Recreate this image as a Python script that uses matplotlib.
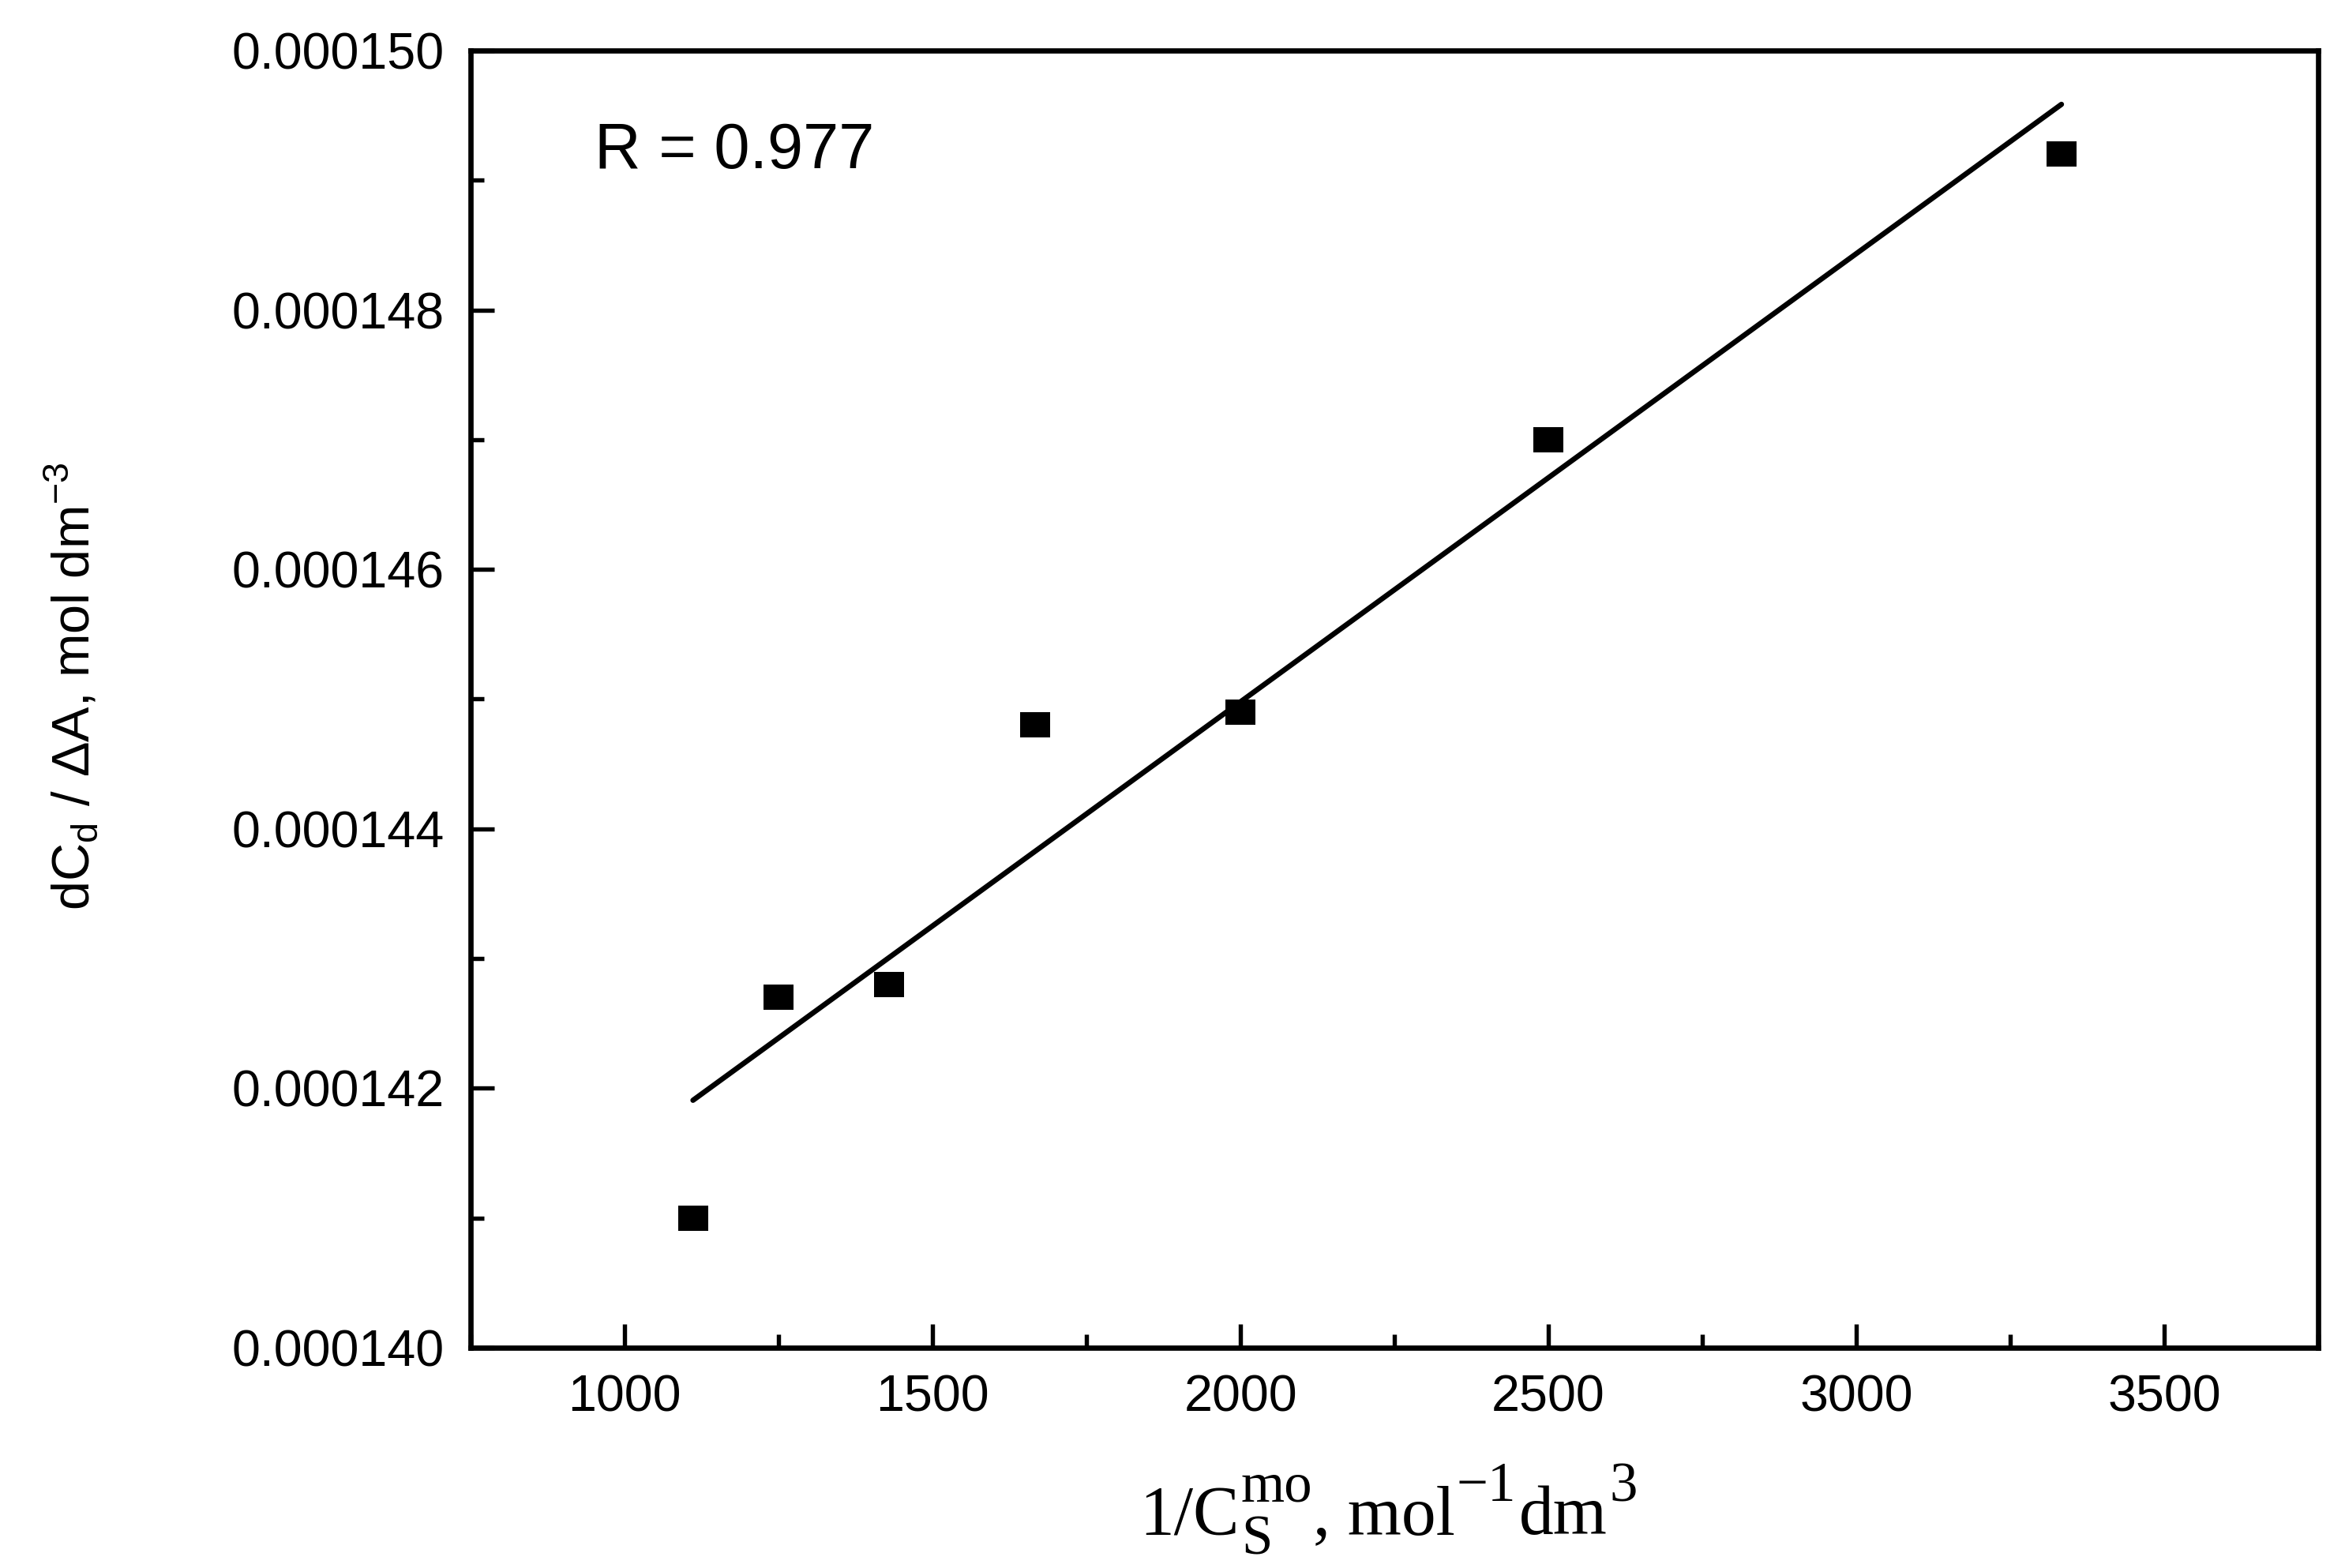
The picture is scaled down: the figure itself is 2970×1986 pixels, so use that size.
import matplotlib
matplotlib.use('Agg')
import matplotlib.pyplot as plt
import numpy as np
from matplotlib.ticker import MultipleLocator, FormatStrFormatter

# data
inv_conc = [1111, 1250, 1429, 1667, 2000, 2500, 3333]
ratio = [0.0001410, 0.0001427, 0.0001428, 0.0001448, 0.0001449, 0.0001470, 0.0001492]
r_text = 'R = 0.977'

plt.rcParams['font.family'] = ['Liberation Sans', 'DejaVu Sans']

fig = plt.figure(figsize=(9.9, 6.62), dpi=300)
ax = fig.add_axes([0.2007, 0.1405, 0.7879, 0.8273])

# linear fit line between first and last x
x = np.array(inv_conc)
y = np.array(ratio)
slope, icpt = np.polyfit(x, y, 1)
xf = np.array([x.min(), x.max()])
ax.plot(xf, slope * xf + icpt, color='k', lw=1.6, solid_capstyle='round')

# slightly wide square markers
rect = [(-1, -0.84), (1, -0.84), (1, 0.84), (-1, 0.84), (-1, -0.84)]
ax.plot(x, y, ls='none', marker=rect, markersize=9.3, color='k', markeredgewidth=0)

ax.set_xlim(750, 3750)
ax.set_ylim(0.000140, 0.000150)
ax.xaxis.set_major_locator(MultipleLocator(500))
ax.xaxis.set_minor_locator(MultipleLocator(250))
ax.yaxis.set_major_locator(MultipleLocator(0.000002))
ax.yaxis.set_minor_locator(MultipleLocator(0.000001))
ax.yaxis.set_major_formatter(FormatStrFormatter('%.6f'))

for s in ax.spines.values():
    s.set_linewidth(1.6)
ax.tick_params(which='both', direction='in', top=False, right=False, width=1.3)
ax.tick_params(which='major', length=7.2, labelsize=15.5)
ax.tick_params(axis='x', which='major', pad=8.0)
ax.tick_params(axis='y', which='major', pad=8.0)
ax.tick_params(which='minor', length=4)

ax.text(0.067, 0.909, r_text, transform=ax.transAxes, fontsize=19.5, va='baseline', ha='left')

# x label built from pieces so the scripts stay near full size
serif = 'Liberation Serif'
base = fig.text(0.486, 0.012, '1/C', fontsize=21, family=serif, va='bottom', ha='left')
sup = ax.annotate('mo', xy=(1, 0), xycoords=base, xytext=(0.5, 11), textcoords='offset points',
                  fontsize=17, family=serif, va='bottom', ha='left')
ax.annotate('S', xy=(1, 0), xycoords=base, xytext=(0.5, -5), textcoords='offset points',
            fontsize=17, family=serif, va='bottom', ha='left')
mol = ax.annotate(', mol', xy=(1, 0), xycoords=(sup, base), xytext=(0, 0), textcoords='offset points',
                  fontsize=21, family=serif, va='bottom', ha='left')
m1 = ax.annotate('\u22121', xy=(1, 0), xycoords=(mol, base), xytext=(0.5, 11), textcoords='offset points',
                 fontsize=17, family=serif, va='bottom', ha='left')
dm = ax.annotate('dm', xy=(1, 0), xycoords=(m1, base), xytext=(1, 0), textcoords='offset points',
                 fontsize=21, family=serif, va='bottom', ha='left')
ax.annotate('3', xy=(1, 0), xycoords=dm, xytext=(0.5, 11), textcoords='offset points',
            fontsize=17, family=serif, va='bottom', ha='left')

ax.set_ylabel(r'dC$_{\mathregular{d}}$ / $\mathregular{\Delta}$A, mol dm$^{\mathregular{-3}}$', fontsize=16)
ax.yaxis.set_label_coords(-0.2, 0.51)

fig.savefig('out.png', dpi=300)
